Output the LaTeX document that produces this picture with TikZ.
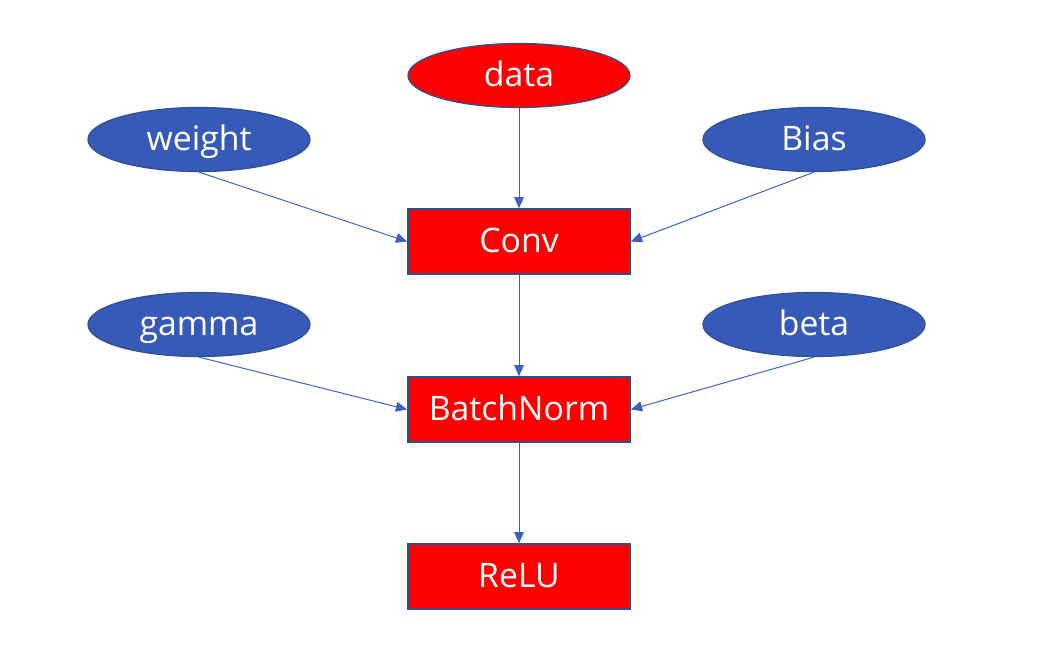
\documentclass[tikz,border=0pt]{standalone}
\usepackage{fontspec}
\setmainfont{Open Sans}
\usepackage{xcolor}
\usepackage{tikz}
\usetikzlibrary{arrows.meta,shapes.geometric}
\definecolor{opred}{RGB}{255,0,0}
\definecolor{parblue}{RGB}{55,90,185}
\definecolor{edgeblue}{RGB}{47,82,143}
\definecolor{linkblue}{RGB}{60,95,195}

\begin{document}
\begin{tikzpicture}[
  x=0.025cm, y=-0.025cm,
  font=\fontsize{24pt}{28pt}\selectfont,
  op/.style={draw=edgeblue, line width=1.2pt, fill=opred, text=white,
             minimum width=5.55cm, minimum height=1.62cm, inner sep=0pt,
             text height=19pt, text depth=3.4pt},
  param/.style={ellipse, draw=edgeblue, line width=0.9pt, fill=parblue, text=white,
                minimum width=5.55cm, minimum height=1.6cm, inner sep=0pt,
                text height=19pt, text depth=3.4pt},
  input/.style={param, fill=opred},
  arr/.style={-{Triangle[length=8pt,width=7pt]}, linkblue, line width=0.7pt}
]
  \useasboundingbox (0,0) rectangle (1048,654);
  % inputs and parameters
  \node[input] (data) at (519,75.5) {data};
  \node[param] (weight) at (199,139.5) {weight};
  \node[param] (bias) at (814,139.5) {Bias};
  \node[param] (gamma) at (199,324.5) {gamma};
  \node[param] (beta) at (814,324.5) {beta};
  % layers
  \node[op] (conv) at (519,241.5) {Conv};
  \node[op] (bn) at (519,409.5) {BatchNorm};
  \node[op] (relu) at (519,576.5) {ReLU};
  \draw[arr] (data) -- (conv);
  \draw[arr] (weight.south) -- (conv.west);
  \draw[arr] (bias.south) -- (conv.east);
  \draw[arr] (conv) -- (bn);
  \draw[arr] (gamma.south) -- (bn.west);
  \draw[arr] (beta.south) -- (bn.east);
  \draw[arr] (bn) -- (relu);
\end{tikzpicture}
\end{document}
